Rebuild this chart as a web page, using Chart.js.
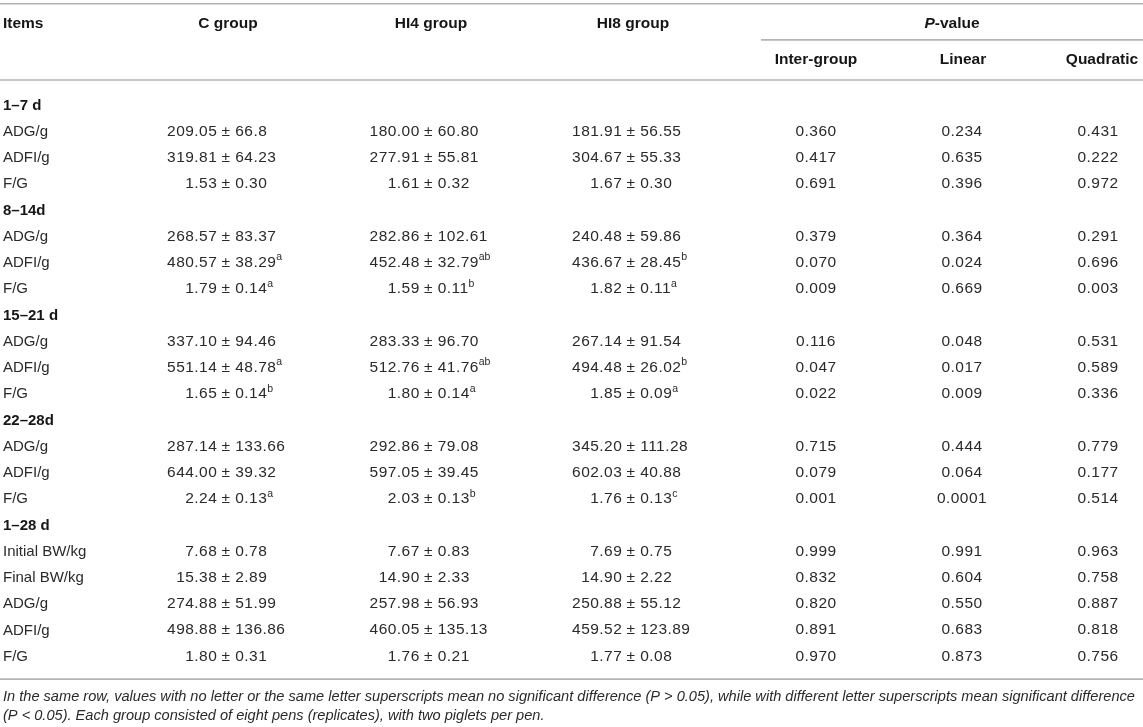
<!DOCTYPE html>
<html>
<head>
<meta charset="utf-8">
<title>Growth performance of piglets</title>
<script src="https://cdn.jsdelivr.net/npm/chart.js@4.4.1/dist/chart.umd.min.js"></script>
<style>
html, body { margin: 0; padding: 0; background: #fff; }
#wrap { width: 1143px; height: 727px; }
</style>
</head>
<body>
<div id="wrap"><canvas id="table" width="1143" height="727"></canvas></div>
<script>
// table content
const headItems = 'Items';
const headGroups = ['C group', 'HI4 group', 'HI8 group'];
const headPvalue = '-value';
const headP = ['Inter-group', 'Linear', 'Quadratic'];

const periods = ['1–7 d', '8–14d', '15–21 d', '22–28d', '1–28 d'];
const periodItems = [
    ['ADG/g', 'ADFI/g', 'F/G'],
    ['ADG/g', 'ADFI/g', 'F/G'],
    ['ADG/g', 'ADFI/g', 'F/G'],
    ['ADG/g', 'ADFI/g', 'F/G'],
    ['Initial BW/kg', 'Final BW/kg', 'ADG/g', 'ADFI/g', 'F/G']
];

const cGroup = ['209.05 ± 66.8', '319.81 ± 64.23', '1.53 ± 0.30', '268.57 ± 83.37', '480.57 ± 38.29', '1.79 ± 0.14',
    '337.10 ± 94.46', '551.14 ± 48.78', '1.65 ± 0.14', '287.14 ± 133.66', '644.00 ± 39.32', '2.24 ± 0.13',
    '7.68 ± 0.78', '15.38 ± 2.89', '274.88 ± 51.99', '498.88 ± 136.86', '1.80 ± 0.31'];
const cSup = ['', '', '', '', 'a', 'a', '', 'a', 'b', '', '', 'a', '', '', '', '', ''];

const hi4Group = ['180.00 ± 60.80', '277.91 ± 55.81', '1.61 ± 0.32', '282.86 ± 102.61', '452.48 ± 32.79', '1.59 ± 0.11',
    '283.33 ± 96.70', '512.76 ± 41.76', '1.80 ± 0.14', '292.86 ± 79.08', '597.05 ± 39.45', '2.03 ± 0.13',
    '7.67 ± 0.83', '14.90 ± 2.33', '257.98 ± 56.93', '460.05 ± 135.13', '1.76 ± 0.21'];
const hi4Sup = ['', '', '', '', 'ab', 'b', '', 'ab', 'a', '', '', 'b', '', '', '', '', ''];

const hi8Group = ['181.91 ± 56.55', '304.67 ± 55.33', '1.67 ± 0.30', '240.48 ± 59.86', '436.67 ± 28.45', '1.82 ± 0.11',
    '267.14 ± 91.54', '494.48 ± 26.02', '1.85 ± 0.09', '345.20 ± 111.28', '602.03 ± 40.88', '1.76 ± 0.13',
    '7.69 ± 0.75', '14.90 ± 2.22', '250.88 ± 55.12', '459.52 ± 123.89', '1.77 ± 0.08'];
const hi8Sup = ['', '', '', '', 'b', 'a', '', 'b', 'a', '', '', 'c', '', '', '', '', ''];

const pInter = ['0.360', '0.417', '0.691', '0.379', '0.070', '0.009', '0.116', '0.047', '0.022',
    '0.715', '0.079', '0.001', '0.999', '0.832', '0.820', '0.891', '0.970'];
const pLinear = ['0.234', '0.635', '0.396', '0.364', '0.024', '0.669', '0.048', '0.017', '0.009',
    '0.444', '0.064', '0.0001', '0.991', '0.604', '0.550', '0.683', '0.873'];
const pQuad = ['0.431', '0.222', '0.972', '0.291', '0.696', '0.003', '0.531', '0.589', '0.336',
    '0.779', '0.177', '0.514', '0.963', '0.758', '0.887', '0.818', '0.756'];

const footnote = [
    'In the same row, values with no letter or the same letter superscripts mean no significant difference (P > 0.05), while with different letter superscripts mean significant difference',
    '(P < 0.05). Each group consisted of eight pens (replicates), with two piglets per pen.'
];

// layout: x in pixels, y in row units (row 0 = first period row)
const rowPitch = 26.25;
const firstRowTop = 105;
const colX = { items: 3, c: 226, hi4: 428.5, hi8: 631, inter: 816, linear: 962, quad: 1098 };
const headX = { c: 228, hi4: 431, hi8: 633, p: 952, inter: 816, linear: 963, quad: 1102 };
const headY = [-3.1, -1.74];
const rules = [
    { y: -3.86, x0: 0, x1: 1143 },
    { y: -2.48, x0: 761, x1: 1143 },
    { y: -0.95, x0: 0, x1: 1143 },
    { y: 21.87, x0: 0, x1: 1143 }
];
const footY = [22.56, 23.28];

const FONT = '"Liberation Sans", Arial, Helvetica, sans-serif';
const textColor = '#2a2a2a';
const headColor = '#161616';
const ruleColor = '#b4b4b4';

// build the row list: period rows (bold) followed by their items
const rowLabels = [];
const rowBold = [];
const dataRowIndex = [];
periods.forEach(function (p, i) {
    rowLabels.push(p);
    rowBold.push(true);
    periodItems[i].forEach(function (item) {
        dataRowIndex.push(rowLabels.length);
        rowLabels.push(item);
        rowBold.push(false);
    });
});

function columnSet(x, cells, sups, kind) {
    return {
        data: cells.map(function (v, j) { return { x: x, y: dataRowIndex[j] }; }),
        cells: cells,
        sups: sups,
        kind: kind,
        pointRadius: 0,
        pointHoverRadius: 0
    };
}

const datasets = [
    {
        data: rowLabels.map(function (v, i) { return { x: colX.items, y: i }; }),
        cells: rowLabels,
        bold: rowBold,
        kind: 'label',
        pointRadius: 0,
        pointHoverRadius: 0
    },
    columnSet(colX.c, cGroup, cSup, 'pm'),
    columnSet(colX.hi4, hi4Group, hi4Sup, 'pm'),
    columnSet(colX.hi8, hi8Group, hi8Sup, 'pm'),
    columnSet(colX.inter, pInter, null, 'center'),
    columnSet(colX.linear, pLinear, null, 'center'),
    columnSet(colX.quad, pQuad, null, 'center')
];

const numFont = '15.5px ' + FONT;
const numSpacing = '0.45px';

// mean ± sd, lined up on the ± sign
function drawPm(ctx, x, y, text, sup) {
    const parts = text.split(' ± ');
    ctx.font = numFont;
    ctx.letterSpacing = numSpacing;
    const pmW = ctx.measureText('±').width;
    const spW = ctx.measureText(' ').width;
    ctx.textAlign = 'center';
    ctx.fillText('±', x, y);
    ctx.textAlign = 'right';
    ctx.fillText(parts[0], x - pmW / 2 - spW + 0.45, y);
    ctx.textAlign = 'left';
    const rx = x + pmW / 2 + spW;
    ctx.fillText(parts[1], rx, y);
    if (sup) {
        const w = ctx.measureText(parts[1]).width;
        ctx.font = '10.5px ' + FONT;
        ctx.letterSpacing = '0px';
        ctx.fillText(sup, rx + w, y - 5);
    }
    ctx.letterSpacing = '0px';
}

const tablePlugin = {
    id: 'tableText',
    afterDatasetsDraw: function (chart) {
        const ctx = chart.ctx;
        const xs = chart.scales.x;
        const ys = chart.scales.y;
        ctx.save();

        // horizontal rules
        ctx.strokeStyle = ruleColor;
        ctx.lineWidth = 1.6;
        rules.forEach(function (r) {
            const y = ys.getPixelForValue(r.y);
            ctx.beginPath();
            ctx.moveTo(xs.getPixelForValue(r.x0), y);
            ctx.lineTo(xs.getPixelForValue(r.x1), y);
            ctx.stroke();
        });

        // header
        const headFont = 'bold 15.5px ' + FONT;
        ctx.fillStyle = headColor;
        ctx.textBaseline = 'middle';
        ctx.font = headFont;
        const h1 = ys.getPixelForValue(headY[0]);
        const h2 = ys.getPixelForValue(headY[1]);
        ctx.textAlign = 'left';
        ctx.fillText(headItems, xs.getPixelForValue(colX.items), h1);
        ctx.textAlign = 'center';
        ctx.fillText(headGroups[0], xs.getPixelForValue(headX.c), h1);
        ctx.fillText(headGroups[1], xs.getPixelForValue(headX.hi4), h1);
        ctx.fillText(headGroups[2], xs.getPixelForValue(headX.hi8), h1);
        ctx.fillText(headP[0], xs.getPixelForValue(headX.inter), h2);
        ctx.fillText(headP[1], xs.getPixelForValue(headX.linear), h2);
        ctx.fillText(headP[2], xs.getPixelForValue(headX.quad), h2);
        // P-value with italic P
        ctx.font = 'italic ' + headFont;
        const pW = ctx.measureText('P').width;
        ctx.font = headFont;
        const vW = ctx.measureText(headPvalue).width;
        const px0 = xs.getPixelForValue(headX.p) - (pW + vW) / 2;
        ctx.textAlign = 'left';
        ctx.font = 'italic ' + headFont;
        ctx.fillText('P', px0, h1);
        ctx.font = headFont;
        ctx.fillText(headPvalue, px0 + pW, h1);

        // body cells, placed at the points Chart.js laid out
        chart.data.datasets.forEach(function (ds, i) {
            const meta = chart.getDatasetMeta(i);
            meta.data.forEach(function (pt, j) {
                const txt = ds.cells[j];
                if (ds.kind === 'label') {
                    ctx.fillStyle = ds.bold[j] ? headColor : textColor;
                    ctx.font = (ds.bold[j] ? 'bold 15px ' : '15px ') + FONT;
                    ctx.textAlign = 'left';
                    ctx.fillText(txt, pt.x, pt.y + 0.5);
                } else if (ds.kind === 'pm') {
                    ctx.fillStyle = textColor;
                    drawPm(ctx, pt.x, pt.y, txt, ds.sups[j]);
                } else {
                    ctx.fillStyle = textColor;
                    ctx.font = numFont;
                    ctx.letterSpacing = numSpacing;
                    ctx.textAlign = 'center';
                    ctx.fillText(txt, pt.x, pt.y);
                    ctx.letterSpacing = '0px';
                }
            });
        });

        // footnote
        ctx.fillStyle = textColor;
        ctx.font = 'italic 14.6px ' + FONT;
        ctx.textAlign = 'left';
        footnote.forEach(function (line, k) {
            ctx.fillText(line, xs.getPixelForValue(colX.items), ys.getPixelForValue(footY[k]));
        });
        ctx.restore();
    }
};

const tableCtx = document.getElementById('table').getContext('2d');
const tableChart = new Chart(tableCtx, {
    type: 'scatter',
    data: { datasets: datasets },
    options: {
        responsive: false,
        animation: false,
        devicePixelRatio: 1,
        layout: { padding: 0 },
        plugins: {
            legend: { display: false },
            tooltip: { enabled: false }
        },
        scales: {
            x: { type: 'linear', display: false, min: 0, max: 1143 },
            y: {
                type: 'linear',
                display: false,
                reverse: true,
                min: -firstRowTop / rowPitch,
                max: (727 - firstRowTop) / rowPitch
            }
        }
    },
    plugins: [tablePlugin]
});
</script>
</body>
</html>
